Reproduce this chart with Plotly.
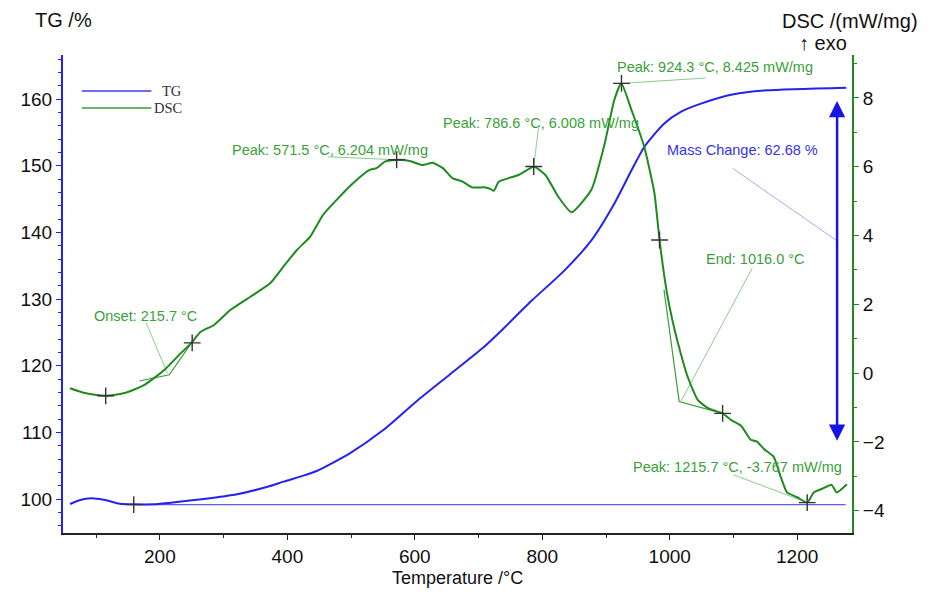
import plotly.graph_objects as go

# ---------------- data ----------------
tg_temp = [59, 75, 92, 114, 137, 159, 190, 217, 269, 321, 373, 394, 425, 446, 498, 550,
           602, 654, 706, 734, 784, 835, 877, 913, 940, 960, 991, 1018, 1049, 1100, 1152,
           1277]
tg_val = [99.25, 99.85, 100.1, 99.85, 99.3, 99.2, 99.2, 99.45, 100.0, 100.7, 101.95,
          102.6, 103.5, 104.2, 106.85, 110.3, 114.6, 118.6, 122.6, 125.1, 129.8, 134.3,
          138.8, 144.3, 149.3, 152.8, 156.3, 158.1, 159.3, 160.7, 161.3, 161.7]

dsc_temp = [59, 82, 115, 145, 176, 207, 233, 249, 264, 285, 311, 342, 373, 394, 415, 436,
            456, 477, 503, 529, 540, 553, 571, 592, 612, 628, 644, 659, 675, 690, 711, 719,
            724, 732, 763, 787, 805, 825, 846, 877, 898, 913, 924, 940, 960, 976, 984, 995,
            1004, 1013, 1028, 1044, 1060, 1083, 1096, 1112, 1127, 1137, 1148, 1163, 1174,
            1184, 1200, 1216, 1226, 1241, 1254, 1262, 1278]
dsc_val = [-0.44, -0.58, -0.66, -0.58, -0.34, 0.09, 0.58, 0.87, 1.2, 1.4, 1.84, 2.22, 2.61,
           3.1, 3.58, 3.97, 4.6, 5.03, 5.52, 5.91, 5.96, 6.15, 6.2, 6.17, 6.05, 6.12, 5.96,
           5.67, 5.57, 5.4, 5.4, 5.35, 5.3, 5.57, 5.76, 6.0, 5.76, 5.13, 4.68, 5.33, 6.68,
           7.94, 8.425, 7.65, 6.58, 5.23, 3.87, 2.4, 1.55, 0.87, -0.1, -0.78, -1.02, -1.17,
           -1.36, -1.53, -1.94, -1.99, -2.21, -2.43, -3.01, -3.47, -3.61, -3.767, -3.47,
           -3.35, -3.25, -3.47, -3.23]

# TG baseline (mass reference)
tg_base_temp = [159, 1276]
tg_base_val = [99.15, 99.15]

# characteristic points on DSC (crosses)
dsc_mark_temp = [115, 250.7, 571.5, 786.6, 924.3, 984, 1083, 1215.7]
dsc_mark_val = [-0.66, 0.88, 6.204, 6.008, 8.425, 3.87, -1.17, -3.767]
tg_mark_temp = [159]
tg_mark_val = [99.15]

# onset / end tangent constructions (DSC axis)
onset_tan_temp = [168, 214.8, 250.7]
onset_tan_val = [-0.23, -0.05, 0.91]
end_tan_temp = [991, 1014.8, 1082.5]
end_tan_val = [2.42, -0.83, -1.17]

# annotation labels: (text, temp, value, anchor, leader start, leader end)
labels = [
    ("Onset: 215.7 °C", 177.5, 1.66, "center", (178.5, 1.46), (211.7, 0.0)),
    ("Peak: 571.5 °C, 6.204 mW/mg", 310, 6.49, "left", (464, 6.29), (571.5, 6.204)),
    ("Peak: 786.6 °C, 6.008 mW/mg", 640.4, 7.28, "left", (794, 7.12), (786.6, 6.008)),
    ("Peak: 924.3 °C, 8.425 mW/mg", 1228, 8.91, "right", (1056, 8.58), (924.3, 8.425)),
    ("End: 1016.0 °C", 1053.5, 3.31, "left", (1129.4, 3.05), (1017.4, -0.83)),
    ("Peak: 1215.7 °C, -3.767 mW/mg", 939.4, -2.72, "left", (1100.6, -2.96), (1215.7, -3.767)),
]
mass_label = "Mass Change: 62.68 %"
mass_label_pos = (1235.8, 152.3)
mass_leader = ((1098.7, 149.6), (1261.3, 138.8))
mass_arrow = (1262.6, 159.7, 108.5)   # temp, top TG, bottom TG

x_ticks = [200, 400, 600, 800, 1000, 1200]
tg_ticks = [100, 110, 120, 130, 140, 150, 160]
dsc_ticks = [-4, -2, 0, 2, 4, 6, 8]

# ---------------- styles ----------------
BLUE = "#2323f0"
GREEN = "#1f8a1f"
TXTGREEN = "#3a9f3a"
LEADGREEN = "#8ccc8c"
FONT = "Liberation Sans, Arial, sans-serif"
SERIF = "Liberation Serif, Times New Roman, serif"

fig = go.Figure()

fig.add_trace(go.Scatter(x=tg_base_temp, y=tg_base_val, mode="lines",
                         line=dict(color="#5c5cff", width=1.3), yaxis="y",
                         showlegend=False, hoverinfo="skip"))
fig.add_trace(go.Scatter(x=tg_temp, y=tg_val, mode="lines", name="TG",
                         line=dict(color=BLUE, width=2, shape="spline", smoothing=0.6),
                         yaxis="y", showlegend=False))
fig.add_trace(go.Scatter(x=onset_tan_temp, y=onset_tan_val, mode="lines",
                         line=dict(color="#3c9c3c", width=1.2), yaxis="y2",
                         showlegend=False, hoverinfo="skip"))
fig.add_trace(go.Scatter(x=end_tan_temp, y=end_tan_val, mode="lines",
                         line=dict(color="#3c9c3c", width=1.2), yaxis="y2",
                         showlegend=False, hoverinfo="skip"))
for (txt, tx, ty, anc, p0, p1) in labels:
    fig.add_trace(go.Scatter(x=[p0[0], p1[0]], y=[p0[1], p1[1]], mode="lines",
                             line=dict(color=LEADGREEN, width=1), yaxis="y2",
                             showlegend=False, hoverinfo="skip"))
fig.add_trace(go.Scatter(x=[mass_leader[0][0], mass_leader[1][0]],
                         y=[mass_leader[0][1], mass_leader[1][1]], mode="lines",
                         line=dict(color="#a8a8f0", width=1), yaxis="y",
                         showlegend=False, hoverinfo="skip"))

fig.add_trace(go.Scatter(x=dsc_temp, y=dsc_val, mode="lines", name="DSC",
                         line=dict(color=GREEN, width=2, shape="spline", smoothing=0.5),
                         yaxis="y2", showlegend=False))

fig.add_trace(go.Scatter(x=dsc_mark_temp, y=dsc_mark_val, mode="markers", yaxis="y2",
                         marker=dict(symbol="cross-thin", size=12,
                                     line=dict(color="#333333", width=1.4)),
                         showlegend=False, hoverinfo="skip"))
fig.add_trace(go.Scatter(x=tg_mark_temp, y=tg_mark_val, mode="markers", yaxis="y",
                         marker=dict(symbol="cross-thin", size=12,
                                     line=dict(color="#333333", width=1.4)),
                         showlegend=False, hoverinfo="skip"))

annotations = []
for (txt, tx, ty, anc, p0, p1) in labels:
    annotations.append(dict(x=tx, y=ty, xref="x", yref="y2", text=txt, showarrow=False,
                            xanchor=anc, yanchor="middle",
                            font=dict(family=FONT, size=14.5, color=TXTGREEN)))
annotations.append(dict(x=mass_label_pos[0], y=mass_label_pos[1], xref="x", yref="y",
                        text=mass_label, showarrow=False, xanchor="right", yanchor="middle",
                        font=dict(family=FONT, size=14.5, color="#3333ee")))
annotations.append(dict(x=mass_arrow[0], y=mass_arrow[1], ax=mass_arrow[0], ay=mass_arrow[2],
                        xref="x", yref="y", axref="x", ayref="y", text="", showarrow=True,
                        arrowhead=2, startarrowhead=2, arrowside="end+start",
                        arrowwidth=2.5, arrowsize=1.3, startarrowsize=1.3, arrowcolor="#1414e6"))
annotations += [
    dict(x=-0.0378, y=1.073, xref="paper", yref="paper", text="TG /%", showarrow=False,
         xanchor="left", yanchor="middle", font=dict(family=FONT, size=20, color="#111")),
    dict(x=1.0856, y=1.071, xref="paper", yref="paper", text="DSC /(mW/mg)", showarrow=False,
         xanchor="right", yanchor="middle", font=dict(family=FONT, size=20, color="#111")),
    dict(x=0.9635, y=1.025, xref="paper", yref="paper", text="↑ exo", showarrow=False,
         xanchor="center", yanchor="middle", font=dict(family=FONT, size=20, color="#111")),
    dict(x=0.5, y=-0.094, xref="paper", yref="paper", text="Temperature /°C", showarrow=False,
         xanchor="center", yanchor="middle", font=dict(family=FONT, size=18, color="#111")),
    dict(x=0.153, y=0.9247, xref="paper", yref="paper", text="TG", showarrow=False,
         xanchor="right", yanchor="middle", font=dict(family=SERIF, size=14.5, color="#333")),
    dict(x=0.153, y=0.889, xref="paper", yref="paper", text="DSC", showarrow=False,
         xanchor="right", yanchor="middle", font=dict(family=SERIF, size=14.5, color="#333")),
]

shapes = [
    dict(type="line", xref="paper", yref="paper", x0=0.0239, x1=0.112, y0=0.9247, y1=0.9247,
         line=dict(color="#3b3bf5", width=1.5)),
    dict(type="line", xref="paper", yref="paper", x0=0.0239, x1=0.112, y0=0.889, y1=0.889,
         line=dict(color="#3a9a3a", width=1.5)),
]

fig.update_layout(
    width=933, height=597, autosize=False,
    margin=dict(l=50, r=89, t=47, b=72),
    paper_bgcolor="white", plot_bgcolor="white",
    font=dict(family=FONT, size=19, color="#111"),
    showlegend=False,
    annotations=annotations, shapes=shapes,
    xaxis=dict(range=[48, 1286], tickvals=x_ticks, ticks="outside", ticklen=5,
               tickcolor="#222", showline=True, linecolor="#222", linewidth=1.5,
               showgrid=False, zeroline=False,
               minor=dict(dtick=100, tick0=0, ticks="outside", ticklen=3, tickcolor="#222"),
               tickfont=dict(size=19, color="#111")),
    yaxis=dict(range=[94.9, 166.6], tickvals=tg_ticks, ticks="outside", ticklen=5,
               tickcolor=BLUE, showline=True, linecolor=BLUE, linewidth=2,
               showgrid=False, zeroline=False,
               minor=dict(dtick=2, tick0=0, ticks="outside", ticklen=3, tickcolor=BLUE),
               tickfont=dict(size=19, color="#111")),
    yaxis2=dict(range=[-4.65, 9.25], tickvals=dsc_ticks, overlaying="y", side="right",
                ticks="outside", ticklen=5, tickcolor=GREEN, showline=True, linecolor=GREEN,
                linewidth=2, showgrid=False, zeroline=False,
                minor=dict(dtick=1, tick0=0, ticks="outside", ticklen=3, tickcolor=GREEN),
                tickfont=dict(size=19, color="#111")),
)

fig.write_html("out.html")
